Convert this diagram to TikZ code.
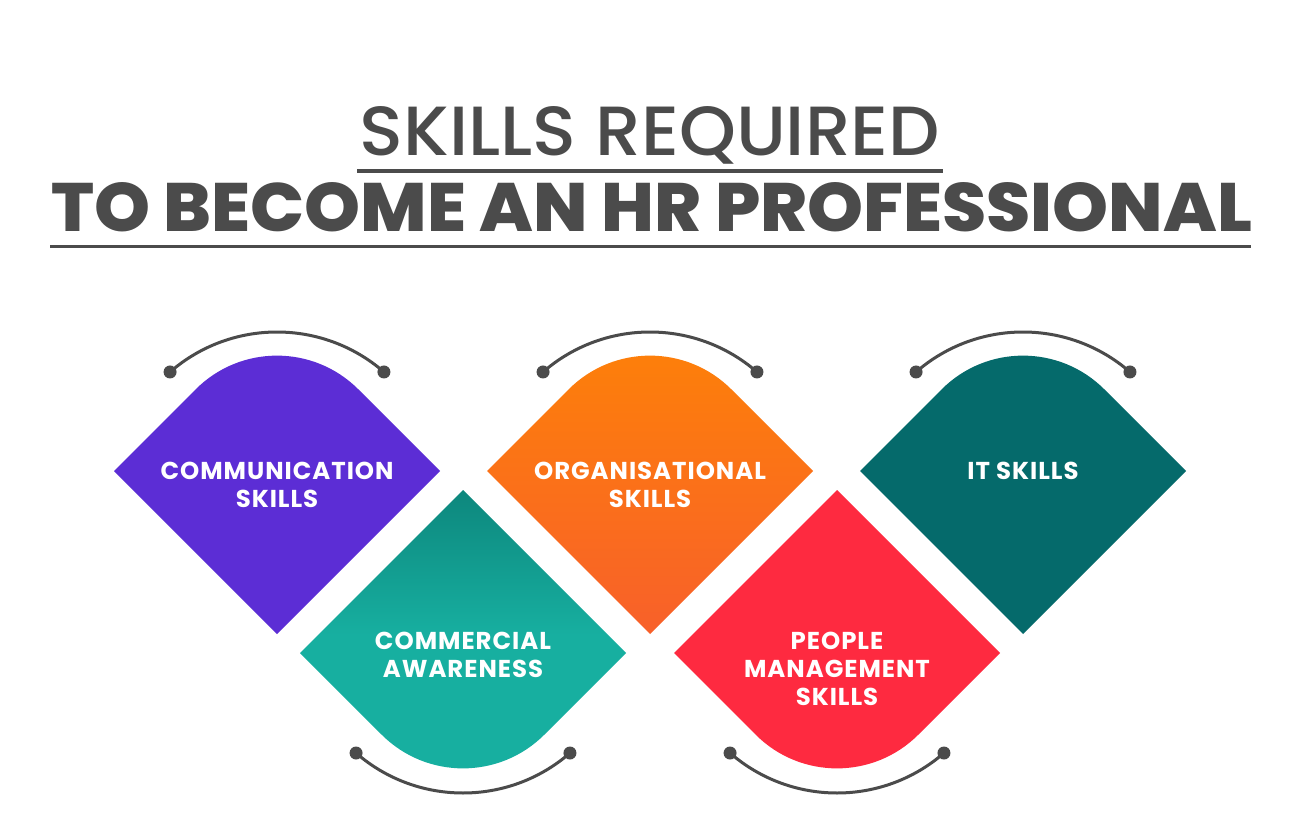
\documentclass[tikz,border=0pt]{standalone}
\usepackage{graphicx}
\usepackage{fontspec}
\setmainfont{Poppins}
\IfFontExistsTF{Poppins ExtraBold}{\newfontfamily\heavyfont{Poppins ExtraBold}}{\newcommand\heavyfont{\bfseries}}
\IfFontExistsTF{Poppins Medium}{\newfontfamily\mediumfont{Poppins Medium}}{\newcommand\mediumfont{\mdseries}}
\usepackage{tikz}

\definecolor{bgblue}{HTML}{DDECF4}
\definecolor{inkgray}{HTML}{4B4B4B}
\definecolor{commpurple}{HTML}{5C2DD5}
\definecolor{awareteal}{HTML}{17AFA0}
\definecolor{awaretealdark}{HTML}{0D877D}
\definecolor{orgorange}{HTML}{FD8009}
\definecolor{orgred}{HTML}{F8602A}
\definecolor{peoplered}{HTML}{FE2A40}
\definecolor{itteal}{HTML}{056A6B}

\pgfdeclareradialshading{bgglow}{\pgfpoint{0bp}{0bp}}{color(0bp)=(white); color(44bp)=(white); color(64bp)=(bgblue); color(72bp)=(bgblue)}

% petal with rounded top, centre #2,#3
\newcommand{\toppetal}[3]{%
  \path[#1] (#2-163,#3) -- (#2-81.3,#3-81.7)
    .. controls (#2-36.4,#3-126.6) and (#2+36.4,#3-126.6) .. (#2+81.3,#3-81.7)
    -- (#2+163,#3) -- (#2,#3+163) -- cycle;}
% petal with rounded bottom
\newcommand{\botpetal}[3]{%
  \path[#1] (#2-163,#3) -- (#2,#3-163) -- (#2+163,#3) -- (#2+81.3,#3+81.7)
    .. controls (#2+36.4,#3+126.6) and (#2-36.4,#3+126.6) .. (#2-81.3,#3+81.7)
    -- cycle;}

\begin{document}
\begin{tikzpicture}[
            x=0.02cm,y=-0.02cm,
            title/.style={inner sep=0pt,anchor=base,text=inkgray},
            titlerule/.style={draw=inkgray,line width=0.07cm},
            skill/.style={text=white,inner sep=0pt,anchor=north,align=center,
              font=\bfseries\fontsize{13.9pt}{15.9pt}\selectfont\addfontfeatures{LetterSpace=4}},
            arcline/.style={draw=inkgray,line width=0.06cm},
            dot/.style={fill=inkgray}
          ]
          \useasboundingbox (0,0) rectangle (1300,834);
          \shade[shading=bgglow] (0,0) rectangle (1300,834);

          %title
          \node[title] (head1) at (650,156) {\resizebox{11.6cm}{0.98cm}{\mediumfont SKILLS REQUIRED}};
          \node[title] (head2) at (651.5,232) {\resizebox{24.02cm}{0.98cm}{\heavyfont TO BECOME AN HR PROFESSIONAL}};
          \draw[titlerule] (357,171) -- (943,171);
          \draw[titlerule] (50,246.5) -- (1251,246.5);

          %petals
          \toppetal{fill=commpurple}{277}{471}
          \botpetal{top color=awaretealdark,bottom color=awareteal,middle color=awareteal}{463}{653}
          \toppetal{top color=orgorange,middle color=orgorange,bottom color=orgred}{650}{471}
          \botpetal{fill=peoplered}{837}{653}
          \toppetal{fill=itteal}{1023}{471}

          %arcs
          \foreach \cx in {277,650,1023}{
            \draw[arcline] (\cx,495) ++(-131:163) coordinate (al) arc[start angle=-131,end angle=-49,radius=163] coordinate (ar);
            \fill[dot] (al) circle (6.5) (ar) circle (6.5);
          }
          \foreach \cx in {463,837}{
            \draw[arcline] (\cx,630) ++(131:163) coordinate (al) arc[start angle=131,end angle=49,radius=163] coordinate (ar);
            \fill[dot] (al) circle (6.5) (ar) circle (6.5);
          }

          %labels
          \node[skill] (comm) at (277,462) {COMMUNICATION\\SKILLS};
          \node[skill] (aware) at (463,632) {COMMERCIAL\\AWARENESS};
          \node[skill] (org) at (650,462) {ORGANISATIONAL\\SKILLS};
          \node[skill] (people) at (837,632) {PEOPLE\\MANAGEMENT\\SKILLS};
          \node[skill] (it) at (1023,462) {IT SKILLS};
      \end{tikzpicture}
\end{document}
